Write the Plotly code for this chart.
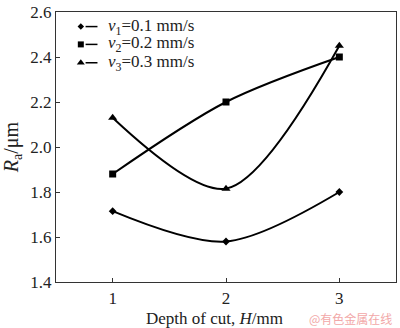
import plotly.graph_objects as go

depth = [1, 2, 3]
v1_vals = [1.715, 1.58, 1.80]
v2_vals = [1.88, 2.20, 2.40]
v3_vals = [2.13, 1.815, 2.45]
names = ["<i>v</i><sub>1</sub>=0.1 mm/s", "<i>v</i><sub>2</sub>=0.2 mm/s", "<i>v</i><sub>3</sub>=0.3 mm/s"]
symbols = ["diamond", "square", "triangle-up"]
msizes = [6, 7, 8]
x_title = "Depth of cut, <i>H</i>/mm"
y_title = "<i>R</i><sub>a</sub>/μm"

# legend layout (paper fractions of plot area)
leg_rows_y = [0.946, 0.880, 0.812]
leg_marker_x = 0.073
leg_line_x = (0.087, 0.122)
leg_text_x = 0.147

fig = go.Figure()
for vals, name, sym, ms in zip([v1_vals, v2_vals, v3_vals], names, symbols, msizes):
    fig.add_trace(go.Scatter(
        x=depth, y=vals, name=name, mode="lines+markers", showlegend=False,
        line=dict(color="black", width=2, shape="spline", smoothing=0.9),
        marker=dict(symbol=sym, size=ms, color="black"),
    ))

# manual legend
for ry, name, sym, ms in zip(leg_rows_y, names, symbols, msizes):
    fig.add_trace(go.Scatter(x=[leg_marker_x], y=[ry], xaxis="x2", yaxis="y2",
                             mode="markers", showlegend=False, hoverinfo="skip",
                             marker=dict(symbol=sym, size=ms - 1, color="black")))
    fig.add_shape(type="line", xref="paper", yref="paper",
                  x0=leg_line_x[0], x1=leg_line_x[1], y0=ry, y1=ry,
                  line=dict(color="black", width=1.5))
    fig.add_annotation(text=name, xref="paper", yref="paper", x=leg_text_x, y=ry,
                       xanchor="left", yanchor="middle", showarrow=False,
                       font=dict(size=17))

font = dict(family="Liberation Serif, Times New Roman, serif", size=16.5, color="#222")
fig.update_layout(
    width=400, height=328,
    margin=dict(l=56, r=3, t=6, b=46),
    paper_bgcolor="white", plot_bgcolor="white",
    font=font,
    showlegend=False,
    xaxis=dict(range=[0.5, 3.5], tickvals=[1, 2, 3], ticks="inside", ticklen=4,
               showline=True, linecolor="#333", linewidth=1.2, mirror=True,
               showgrid=False, zeroline=False, tickcolor="#333",
               tickfont=dict(size=17)),
    yaxis=dict(range=[1.4, 2.6], tickvals=[1.4, 1.6, 1.8, 2.0, 2.2, 2.4, 2.6],
               tickformat=".1f", ticks="inside", ticklen=4,
               ticklabeloverflow="allow",
               showline=True, linecolor="#333", linewidth=1.2, mirror=True,
               showgrid=False, zeroline=False, tickcolor="#333",
               tickfont=dict(size=17),
               title=dict(text=y_title, standoff=8)),
    xaxis2=dict(range=[0, 1], overlaying="x", visible=False, fixedrange=True),
    yaxis2=dict(range=[0, 1], overlaying="y", visible=False, fixedrange=True),
)
fig.add_annotation(text=x_title, xref="paper", yref="paper", x=0.466, y=-0.134,
                   xanchor="center", yanchor="middle", showarrow=False,
                   font=dict(size=17))
fig.add_annotation(text="@有色金属在线", xref="paper", yref="paper", x=0.994, y=-0.134,
                   xanchor="right", yanchor="middle", showarrow=False,
                   font=dict(family="Noto Sans CJK SC", size=12, color="#f2a8a8"))
fig.write_html("out.html")
